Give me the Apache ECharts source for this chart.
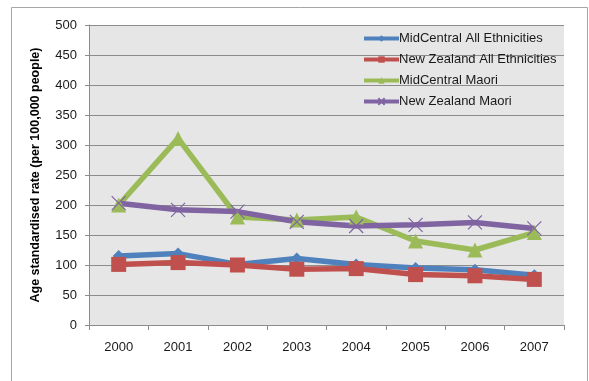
<!DOCTYPE html>
<html>
<head>
<meta charset="utf-8">
<style>
  html, body { margin: 0; padding: 0; background: #fff; }
  #chart { width: 589px; height: 381px; }
</style>
<script src="https://cdn.jsdelivr.net/npm/echarts@6/dist/echarts.min.js"></script>
</head>
<body>
<div id="chart"></div>
<script>
// Age standardised rates per 100,000 people, 2000-2007
const years = ['2000', '2001', '2002', '2003', '2004', '2005', '2006', '2007'];
const midCentralAll = [115, 119, 101, 111, 101, 95, 92, 83];
const nzAll = [101, 104, 100, 93, 94, 84, 82, 76];
const midCentralMaori = [200, 311, 180, 175, 180, 140, 125, 154];
const nzMaori = [203, 192, 189, 172, 165, 167, 171, 161];
const seriesNames = [
  'MidCentral All Ethnicities',
  'New Zealand All Ethnicities',
  'MidCentral Maori',
  'New Zealand Maori'
];

const font = '"Liberation Sans", Arial, sans-serif';
const crossPath = 'path://M0,0L10,10M10,0L0,10';

function lineSeries(name, data, color, symbol, size, extraItem) {
  return {
    name: name,
    type: 'line',
    data: data,
    symbol: symbol,
    symbolSize: size,
    lineStyle: { color: color, width: 5.5 },
    itemStyle: Object.assign({ color: color }, extraItem || {}),
    emphasis: { disabled: true },
    z: 3
  };
}

const chart = echarts.init(document.getElementById('chart'), null, { renderer: 'canvas' });
chart.setOption({
  animation: false,
  backgroundColor: '#ffffff',
  textStyle: { fontFamily: font },
  graphic: [{
    type: 'rect',
    shape: { x: 11.5, y: 7.5, width: 576, height: 400 },
    style: { fill: 'none', stroke: '#a6a6a6', lineWidth: 1 },
    silent: true
  }],
  grid: {
    left: 89, top: 25, width: 475, height: 300,
    show: true, backgroundColor: '#e6e6e6', borderWidth: 0
  },
  legend: {
    orient: 'vertical',
    left: 357, top: 27,
    itemWidth: 35, itemHeight: 8, itemGap: 8,
    lineStyle: { width: 4 },
    textStyle: { fontSize: 13, color: '#1a1a1a', fontFamily: font, padding: [0, 0, 0, -5] },
    data: seriesNames
  },
  xAxis: {
    type: 'category',
    data: years,
    boundaryGap: true,
    axisLine: { lineStyle: { color: '#8c8c8c', width: 1 } },
    axisTick: { show: true, length: 5, lineStyle: { color: '#8c8c8c' } },
    axisLabel: { fontSize: 13, color: '#1a1a1a', margin: 16, fontFamily: font },
    splitLine: { show: false }
  },
  yAxis: {
    type: 'value',
    min: 0, max: 500, interval: 50,
    name: 'Age standardised rate (per 100,000 people)',
    nameLocation: 'middle',
    nameGap: 47,
    nameTextStyle: { fontSize: 12.5, fontWeight: 'bold', color: '#000', fontFamily: font },
    axisLine: { show: true, lineStyle: { color: '#8c8c8c', width: 1 } },
    axisTick: { show: true, length: 4, lineStyle: { color: '#8c8c8c' } },
    axisLabel: { fontSize: 13, color: '#1a1a1a', margin: 12, fontFamily: font },
    splitLine: { show: true, lineStyle: { color: '#8c8c8c', width: 1 } }
  },
  series: [
    lineSeries(seriesNames[0], midCentralAll, '#4f81bd', 'diamond', 12),
    lineSeries(seriesNames[1], nzAll, '#c0504d', 'rect', 15),
    lineSeries(seriesNames[2], midCentralMaori, '#9bbb59', 'triangle', 15),
    lineSeries(seriesNames[3], nzMaori, '#8064a2', crossPath, 14,
      { borderColor: '#8064a2', borderWidth: 1.2 })
  ]
});
</script>
</body>
</html>
